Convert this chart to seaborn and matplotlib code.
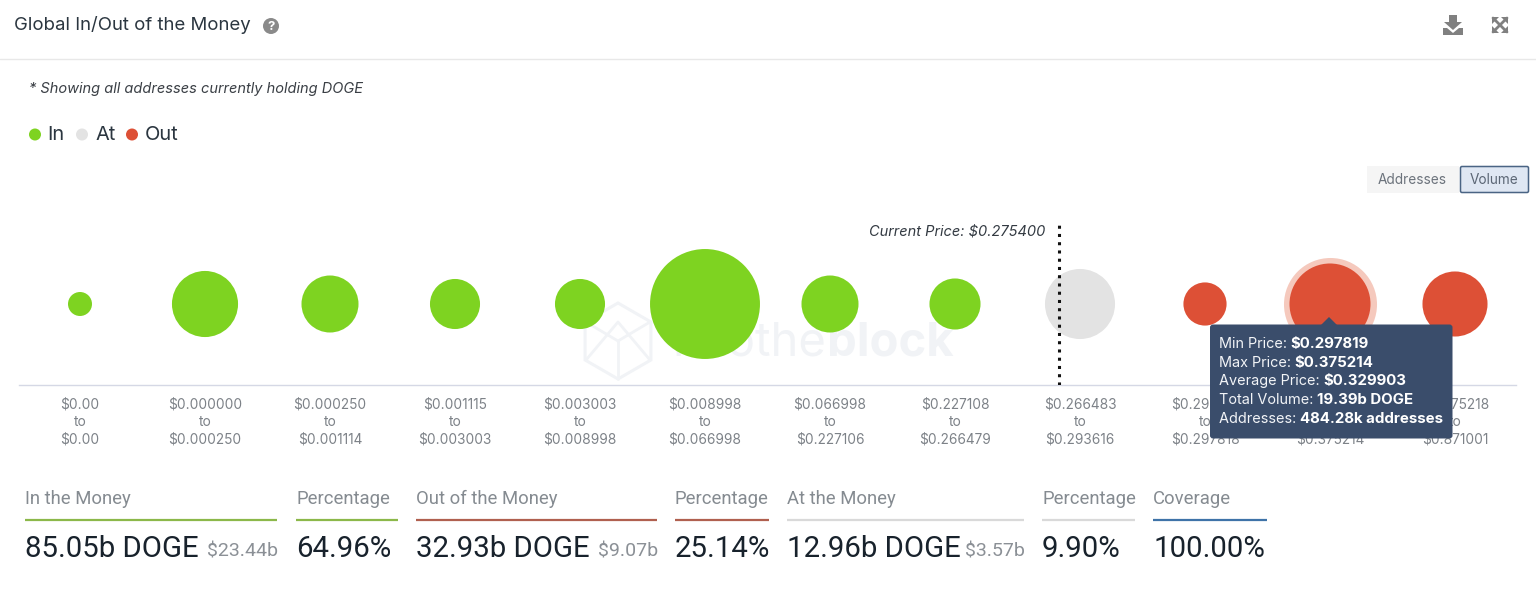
import matplotlib
matplotlib.use("Agg")
import matplotlib.pyplot as plt
from matplotlib.patches import Circle, Rectangle, FancyBboxPatch, Polygon, RegularPolygon
import numpy as np
import pandas as pd
import seaborn as sns

# ---------- data ----------
range_low = ["$0.00", "$0.000000", "$0.000250", "$0.001115", "$0.003003", "$0.008998",
             "$0.066998", "$0.227108", "$0.266483", "$0.293617", "$0.297819", "$0.375218"]
range_high = ["$0.00", "$0.000250", "$0.001114", "$0.003003", "$0.008998", "$0.066998",
              "$0.227106", "$0.266479", "$0.293616", "$0.297818", "$0.375214", "$0.871001"]
volume_b = [1.7, 12.9, 9.6, 7.4, 7.4, 35.7, 9.6, 7.7, 14.5, 5.5, 19.39, 12.5]
status = ["In"] * 8 + ["At"] + ["Out"] * 3
palette = {"In": "#7ed321", "At": "#e3e3e3", "Out": "#dd5036"}
current_price_pos = 7.832
selected_index = 10

kpi_titles = ["In the Money", "Percentage", "Out of the Money", "Percentage",
              "At the Money", "Percentage", "Coverage"]
kpi_values = ["85.05b DOGE", "64.96%", "32.93b DOGE", "25.14%", "12.96b DOGE", "9.90%", "100.00%"]
kpi_usd = ["$23.44b", "", "$9.07b", "", "$3.57b", "", ""]
kpi_spans = [(25, 277), (296, 398), (416, 657), (675, 769), (787, 1024), (1042, 1135), (1153, 1267)]
kpi_colors = ["#8cb84a", "#8cb84a", "#b0604f", "#b0604f", "#d9d9d9", "#d9d9d9", "#3f73a8"]

tooltip_rows = [("Min Price: ", "$0.297819"), ("Max Price: ", "$0.375214"),
                ("Average Price: ", "$0.329903"), ("Total Volume: ", "19.39b DOGE"),
                ("Addresses: ", "484.28k addresses")]

# ---------- setup ----------
sns.set_theme(style="white")
plt.rcParams["font.family"] = ["Inter", "DejaVu Sans"]
W, H = 1536, 595
fig = plt.figure(figsize=(W / 100, H / 100), dpi=100, facecolor="white")


def pixel_axes(z):
    a = fig.add_axes([0, 0, 1, 1], zorder=z)
    a.set_xlim(0, W)
    a.set_ylim(H, 0)
    a.axis("off")
    a.patch.set_alpha(0)
    return a


back = pixel_axes(0)
front = pixel_axes(2)

# ---------- bubble chart ----------
L, R, T, B = 19, 1516, 200, 385
ax = fig.add_axes([L / W, 1 - B / H, (R - L) / W, (B - T) / H], zorder=1)
ax.patch.set_alpha(0)
df = pd.DataFrame({"pos": np.arange(len(volume_b)), "y": 0.0, "volume": volume_b, "status": status})


def pts2(d_px):
    return (d_px * 0.72) ** 2


k = 18.4  # px of diameter per sqrt(b)
vmin, vmax = min(volume_b), max(volume_b)
# halo behind the hovered bubble
ax.scatter([selected_index], [0], s=pts2(k * np.sqrt(volume_b[selected_index]) + 12),
           color="#f5c9bd", linewidth=0, zorder=1)
sns.scatterplot(data=df, x="pos", y="y", hue="status", palette=palette, size="volume",
                size_norm=(vmin, vmax), sizes=(pts2(k * np.sqrt(vmin)), pts2(k * np.sqrt(vmax))),
                linewidth=0, alpha=1, legend=False, ax=ax, zorder=2, clip_on=False)
ax.set_xlim((L - 80) / 125, (R - 80) / 125)
ax.set_ylim(-(B - 304), 304 - T)
ax.set_xticks(df["pos"])
ax.set_xticklabels([f"{a}\nto\n{b}" for a, b in zip(range_low, range_high)],
                   fontsize=9.85, color="#7d8288", linespacing=1.3)
ax.tick_params(axis="x", length=0, pad=9)
ax.set_yticks([])
ax.set_xlabel("")
ax.set_ylabel("")
for s in ["top", "left", "right"]:
    ax.spines[s].set_visible(False)
ax.spines["bottom"].set_color("#d5d8e5")
ax.spines["bottom"].set_linewidth(1.0)
ax.vlines(current_price_pos, -(B - 304), 304 - 224, color="#111111", linewidth=2.2,
          linestyles=(0, (1, 1.7)), zorder=3)

# ---------- header ----------
front.text(14, 24.5, "Global In/Out of the Money", fontsize=13.4, color="#2b3640", va="center")
front.add_patch(Circle((271, 26), 8, color="#8a8a8a", lw=0))
front.text(271, 26.5, "?", fontsize=9.5, color="white", ha="center", va="center", fontweight="bold")
front.plot([0, W], [59, 59], color="#e8e8e8", lw=1)
front.text(29, 88.5, "* Showing all addresses currently holding DOGE", fontsize=10.5,
           style="italic", color="#3a3f45", va="center")

# download icon
ic = "#808080"
front.add_patch(Polygon([(1449, 15), (1457, 15), (1457, 22), (1462, 22), (1453, 30), (1444, 22), (1449, 22)],
                        color=ic, lw=0))
front.add_patch(Polygon([(1443, 28), (1447, 28), (1453, 33), (1459, 28), (1463, 28), (1463, 35), (1443, 35)],
                        color=ic, lw=0))
# expand icon
for (x0, y0, x1, y1) in [(1493, 18, 1507, 32), (1507, 18, 1493, 32)]:
    front.plot([x0, x1], [y0, y1], color=ic, lw=2)
for (cx, cy, sx, sy) in [(1492, 17, 1, 1), (1508, 17, -1, 1), (1492, 33, 1, -1), (1508, 33, -1, -1)]:
    front.add_patch(Polygon([(cx, cy), (cx + 7 * sx, cy), (cx, cy + 7 * sy)], color=ic, lw=0))

# ---------- legend ----------
for lx, tx, name in [(35, 47, "In"), (82, 95, "At"), (132, 145, "Out")]:
    front.add_patch(Circle((lx, 134.5), 6, color=palette[name], lw=0))
    front.text(tx, 135.5, name, fontsize=14.4, color="#2b3640", va="center")

# ---------- buttons ----------
front.add_patch(Rectangle((1367, 166), 92, 27, color="#f5f5f5", lw=0))
front.text(1412, 180, "Addresses", fontsize=9.8, color="#6c737c", ha="center", va="center")
front.add_patch(FancyBboxPatch((1460.5, 166.5), 68, 26, boxstyle="round,pad=0,rounding_size=1.5",
                               fc="#dfe7f3", ec="#4a6484", lw=1.1))
front.text(1494.5, 180, "Volume", fontsize=9.8, color="#5b6675", ha="center", va="center")

# ---------- current price ----------
front.text(1045, 231.5, "Current Price: $0.275400", fontsize=10.5, style="italic", color="#333a42",
           ha="right", va="center")

# ---------- watermark ----------
wm = "#f1f3f6"
back.add_patch(RegularPolygon((618, 341), 6, radius=38, fill=False, ec=wm, lw=2.2))
back.plot([618, 618], [341, 379], color=wm, lw=2)
back.plot([586, 618, 650], [322, 341, 322], color=wm, lw=2)
back.plot([586, 618, 650], [360, 322, 360], color=wm, lw=2)
t0 = back.text(672, 343, "intothe", fontsize=34, color=wm, va="center")
bb0 = t0.get_window_extent(fig.canvas.get_renderer())
back.text(bb0.x1 + 1, 343, "block", fontsize=34, color=wm, va="center", fontweight="bold")

# ---------- tooltip ----------
tip = "#3a4d6b"
front.add_patch(FancyBboxPatch((1210, 324.5), 242.5, 114, boxstyle="round,pad=0,rounding_size=3",
                               fc=tip, ec="none"))
front.add_patch(Polygon([(1321, 325), (1329, 317), (1337, 325)], color=tip, lw=0))
renderer = fig.canvas.get_renderer()
for i, (lab, val) in enumerate(tooltip_rows):
    y = 344 + i * 18.7
    t = front.text(1219, y, lab, fontsize=10.4, color="#f2f4f7", va="center")
    bb = t.get_window_extent(renderer)
    front.text(bb.x1 - 0.5, y, val, fontsize=10.8, color="white", va="center", fontweight="bold")

# ---------- KPI row ----------
for title, val, usd, (x0, x1), col in zip(kpi_titles, kpi_values, kpi_usd, kpi_spans, kpi_colors):
    front.text(x0, 498.5, title, fontsize=13.3, color="#858b91", va="center", family=["Roboto"])
    front.plot([x0, x1], [519.5, 519.5], color=col, lw=1.6, solid_capstyle="butt")
    front.text(x0, 549, val, fontsize=21.2, color="#18222c", va="center", family=["Roboto"])
    if usd:
        front.text(x1 + 1, 551, usd, fontsize=14, color="#8b9096", va="center", ha="right",
                   family=["Roboto"])

fig.savefig("out.png", dpi=100, facecolor="white")
